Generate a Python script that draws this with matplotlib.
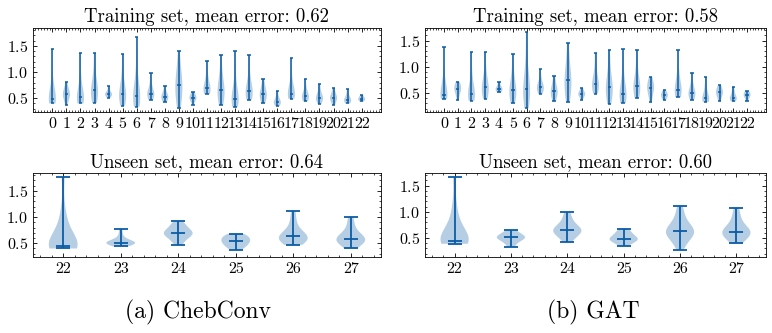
import matplotlib
matplotlib.use("Agg")
import matplotlib.pyplot as plt

plt.rcParams.update({
    "font.family": ["cmr10", "DejaVu Serif"],
    "mathtext.fontset": "cm",
    "axes.formatter.use_mathtext": True,
    "axes.linewidth": 0.6,
    "xtick.direction": "in",
    "ytick.direction": "in",
    "xtick.top": True,
    "ytick.right": True,
    "xtick.minor.visible": True,
    "ytick.minor.visible": True,
    "xtick.major.size": 3,
    "xtick.minor.size": 1.5,
    "ytick.major.size": 3,
    "ytick.minor.size": 1.5,
    "xtick.major.width": 0.6,
    "xtick.minor.width": 0.5,
    "ytick.major.width": 0.6,
    "ytick.minor.width": 0.5,
    "lines.linewidth": 1.0,
})

COLOR = "#0C5DA5"

train_positions = list(range(23))
unseen_positions = [22, 23, 24, 25, 26, 27]

cheb_train = [
    [0.40, 0.43, 0.45, 0.47, 0.48, 0.49, 0.52, 0.56, 0.65, 0.90, 1.45],
    [0.38, 0.45, 0.50, 0.53, 0.56, 0.58, 0.60, 0.63, 0.67, 0.72, 0.81],
    [0.40, 0.43, 0.46, 0.48, 0.50, 0.52, 0.55, 0.60, 0.70, 0.95, 1.36],
    [0.41, 0.46, 0.52, 0.57, 0.62, 0.66, 0.70, 0.76, 0.85, 1.05, 1.37],
    [0.51, 0.53, 0.55, 0.56, 0.57, 0.58, 0.59, 0.60, 0.62, 0.66, 0.73],
    [0.36, 0.42, 0.47, 0.52, 0.55, 0.58, 0.62, 0.68, 0.78, 1.00, 1.35],
    [0.34, 0.40, 0.45, 0.49, 0.52, 0.54, 0.58, 0.66, 0.80, 1.15, 1.68],
    [0.47, 0.51, 0.54, 0.56, 0.58, 0.59, 0.61, 0.64, 0.70, 0.80, 0.98],
    [0.42, 0.45, 0.48, 0.50, 0.52, 0.53, 0.55, 0.57, 0.60, 0.65, 0.73],
    [0.31, 0.42, 0.52, 0.60, 0.68, 0.75, 0.82, 0.90, 1.00, 1.15, 1.40],
    [0.38, 0.43, 0.46, 0.48, 0.50, 0.51, 0.52, 0.54, 0.56, 0.59, 0.62],
    [0.58, 0.61, 0.63, 0.65, 0.67, 0.69, 0.72, 0.77, 0.85, 0.98, 1.22],
    [0.37, 0.44, 0.51, 0.57, 0.62, 0.66, 0.71, 0.78, 0.88, 1.05, 1.33],
    [0.34, 0.38, 0.42, 0.45, 0.47, 0.49, 0.53, 0.60, 0.72, 0.98, 1.41],
    [0.47, 0.51, 0.55, 0.58, 0.61, 0.63, 0.67, 0.73, 0.82, 1.00, 1.32],
    [0.40, 0.45, 0.49, 0.53, 0.56, 0.58, 0.61, 0.65, 0.70, 0.77, 0.87],
    [0.35, 0.37, 0.39, 0.41, 0.42, 0.43, 0.45, 0.47, 0.50, 0.55, 0.63],
    [0.49, 0.52, 0.54, 0.56, 0.58, 0.59, 0.62, 0.67, 0.76, 0.95, 1.27],
    [0.44, 0.47, 0.49, 0.51, 0.53, 0.54, 0.56, 0.59, 0.64, 0.72, 0.87],
    [0.39, 0.43, 0.46, 0.48, 0.50, 0.51, 0.53, 0.56, 0.60, 0.67, 0.77],
    [0.37, 0.42, 0.45, 0.48, 0.50, 0.51, 0.53, 0.55, 0.58, 0.63, 0.70],
    [0.40, 0.42, 0.43, 0.45, 0.46, 0.47, 0.49, 0.51, 0.54, 0.59, 0.68],
    [0.44, 0.45, 0.46, 0.47, 0.48, 0.49, 0.50, 0.51, 0.52, 0.54, 0.56],
]

gat_train = [
    [0.39, 0.41, 0.43, 0.45, 0.46, 0.47, 0.50, 0.55, 0.65, 0.90, 1.38],
    [0.36, 0.44, 0.49, 0.53, 0.56, 0.58, 0.60, 0.62, 0.65, 0.68, 0.72],
    [0.35, 0.39, 0.42, 0.45, 0.47, 0.48, 0.52, 0.58, 0.68, 0.90, 1.28],
    [0.39, 0.45, 0.50, 0.55, 0.58, 0.61, 0.65, 0.71, 0.80, 0.98, 1.28],
    [0.51, 0.53, 0.55, 0.56, 0.57, 0.58, 0.59, 0.61, 0.63, 0.66, 0.71],
    [0.30, 0.37, 0.43, 0.48, 0.52, 0.56, 0.60, 0.66, 0.76, 0.95, 1.25],
    [0.21, 0.32, 0.41, 0.48, 0.54, 0.58, 0.64, 0.74, 0.90, 1.20, 1.67],
    [0.48, 0.52, 0.55, 0.58, 0.60, 0.61, 0.63, 0.66, 0.71, 0.80, 0.96],
    [0.34, 0.40, 0.44, 0.48, 0.51, 0.53, 0.56, 0.60, 0.65, 0.72, 0.83],
    [0.32, 0.43, 0.53, 0.61, 0.68, 0.74, 0.81, 0.90, 1.02, 1.18, 1.45],
    [0.37, 0.41, 0.44, 0.46, 0.47, 0.48, 0.49, 0.51, 0.53, 0.56, 0.59],
    [0.49, 0.54, 0.58, 0.62, 0.65, 0.67, 0.71, 0.77, 0.86, 1.01, 1.26],
    [0.29, 0.38, 0.46, 0.52, 0.57, 0.61, 0.66, 0.74, 0.85, 1.03, 1.32],
    [0.31, 0.36, 0.40, 0.43, 0.46, 0.48, 0.53, 0.61, 0.74, 0.98, 1.34],
    [0.41, 0.47, 0.52, 0.56, 0.60, 0.63, 0.67, 0.74, 0.84, 1.02, 1.32],
    [0.32, 0.41, 0.48, 0.53, 0.57, 0.60, 0.63, 0.66, 0.70, 0.75, 0.81],
    [0.36, 0.39, 0.41, 0.43, 0.45, 0.46, 0.47, 0.49, 0.51, 0.53, 0.56],
    [0.42, 0.46, 0.49, 0.52, 0.54, 0.56, 0.60, 0.67, 0.78, 0.98, 1.33],
    [0.37, 0.41, 0.44, 0.47, 0.49, 0.50, 0.53, 0.57, 0.63, 0.73, 0.89],
    [0.33, 0.35, 0.36, 0.38, 0.39, 0.40, 0.43, 0.48, 0.56, 0.66, 0.81],
    [0.34, 0.40, 0.44, 0.47, 0.49, 0.51, 0.53, 0.55, 0.58, 0.61, 0.65],
    [0.34, 0.36, 0.37, 0.39, 0.40, 0.41, 0.43, 0.46, 0.50, 0.55, 0.61],
    [0.34, 0.38, 0.41, 0.43, 0.45, 0.46, 0.47, 0.49, 0.50, 0.52, 0.54],
]

cheb_unseen = [
    [0.40, 0.40, 0.41, 0.42, 0.42, 0.43, 0.43, 0.44, 0.50, 0.58, 0.66, 0.75, 0.90, 1.15, 1.77],
    [0.44, 0.46, 0.48, 0.49, 0.50, 0.50, 0.51, 0.51, 0.52, 0.53, 0.54, 0.56, 0.60, 0.67, 0.77],
    [0.47, 0.53, 0.58, 0.62, 0.65, 0.67, 0.68, 0.69, 0.71, 0.73, 0.76, 0.79, 0.83, 0.87, 0.92],
    [0.37, 0.41, 0.44, 0.46, 0.48, 0.51, 0.53, 0.54, 0.56, 0.58, 0.60, 0.62, 0.64, 0.66, 0.68],
    [0.47, 0.50, 0.53, 0.55, 0.57, 0.59, 0.61, 0.63, 0.65, 0.67, 0.70, 0.75, 0.85, 0.97, 1.12],
    [0.40, 0.45, 0.49, 0.52, 0.54, 0.56, 0.57, 0.59, 0.61, 0.63, 0.66, 0.71, 0.79, 0.89, 1.01],
]

gat_unseen = [
    [0.39, 0.40, 0.41, 0.42, 0.43, 0.44, 0.44, 0.45, 0.50, 0.57, 0.65, 0.75, 0.90, 1.15, 1.67],
    [0.33, 0.38, 0.42, 0.45, 0.47, 0.49, 0.50, 0.51, 0.52, 0.53, 0.55, 0.57, 0.59, 0.62, 0.65],
    [0.42, 0.49, 0.54, 0.57, 0.60, 0.62, 0.64, 0.65, 0.67, 0.69, 0.72, 0.76, 0.82, 0.90, 0.99],
    [0.35, 0.39, 0.42, 0.44, 0.46, 0.47, 0.48, 0.49, 0.51, 0.53, 0.55, 0.58, 0.61, 0.64, 0.68],
    [0.28, 0.40, 0.47, 0.52, 0.56, 0.59, 0.61, 0.63, 0.65, 0.68, 0.72, 0.78, 0.86, 0.97, 1.11],
    [0.40, 0.46, 0.50, 0.54, 0.57, 0.59, 0.61, 0.62, 0.64, 0.67, 0.71, 0.77, 0.85, 0.95, 1.08],
]

titles_cheb = ["Training set, mean error: 0.62", "Unseen set, mean error: 0.64"]
titles_gat = ["Training set, mean error: 0.58", "Unseen set, mean error: 0.60"]
captions = ["(a) ChebConv", "(b) GAT"]

W, H = 772, 333
fig = plt.figure(figsize=(W / 100, H / 100), dpi=100)


def px_axes(x0, y0, x1, y1, **kw):
    return fig.add_axes([x0 / W, 1 - y1 / H, (x1 - x0) / W, (y1 - y0) / H], **kw)


def violins(ax, data, positions, lw):
    parts = ax.violinplot(data, positions=positions, showmedians=True)
    for b in parts["bodies"]:
        b.set_facecolor(COLOR)
        b.set_edgecolor("none")
        b.set_alpha(0.3)
    for key in ("cmaxes", "cmins", "cbars", "cmedians"):
        parts[key].set_color(COLOR)
        parts[key].set_linewidth(lw)
    ax.set_xticks(positions)
    ax.set_xticklabels([str(p) for p in positions])
    ax.tick_params(axis="both", which="major", labelsize=11.5, pad=3.5)


columns = [
    (33, 381, cheb_train, cheb_unseen, titles_cheb, captions[0], 198),
    (425, 766, gat_train, gat_unseen, titles_gat, captions[1], 593),
]
for x0, x1, tr, un, tt, cap, cx in columns:
    ax1 = px_axes(x0, 28, x1, 112)
    ax2 = px_axes(x0, 173, x1, 257, sharey=ax1)
    violins(ax1, tr, train_positions, 1.1)
    violins(ax2, un, unseen_positions, 1.3)
    ax1.set_title(tt[0], fontsize=13.5, pad=4)
    ax2.set_title(tt[1], fontsize=13.5, pad=4)
    fig.text(cx / W, 1 - 312 / H, cap, ha="center", va="center", fontsize=17)

fig.savefig("out.png", dpi=100)
